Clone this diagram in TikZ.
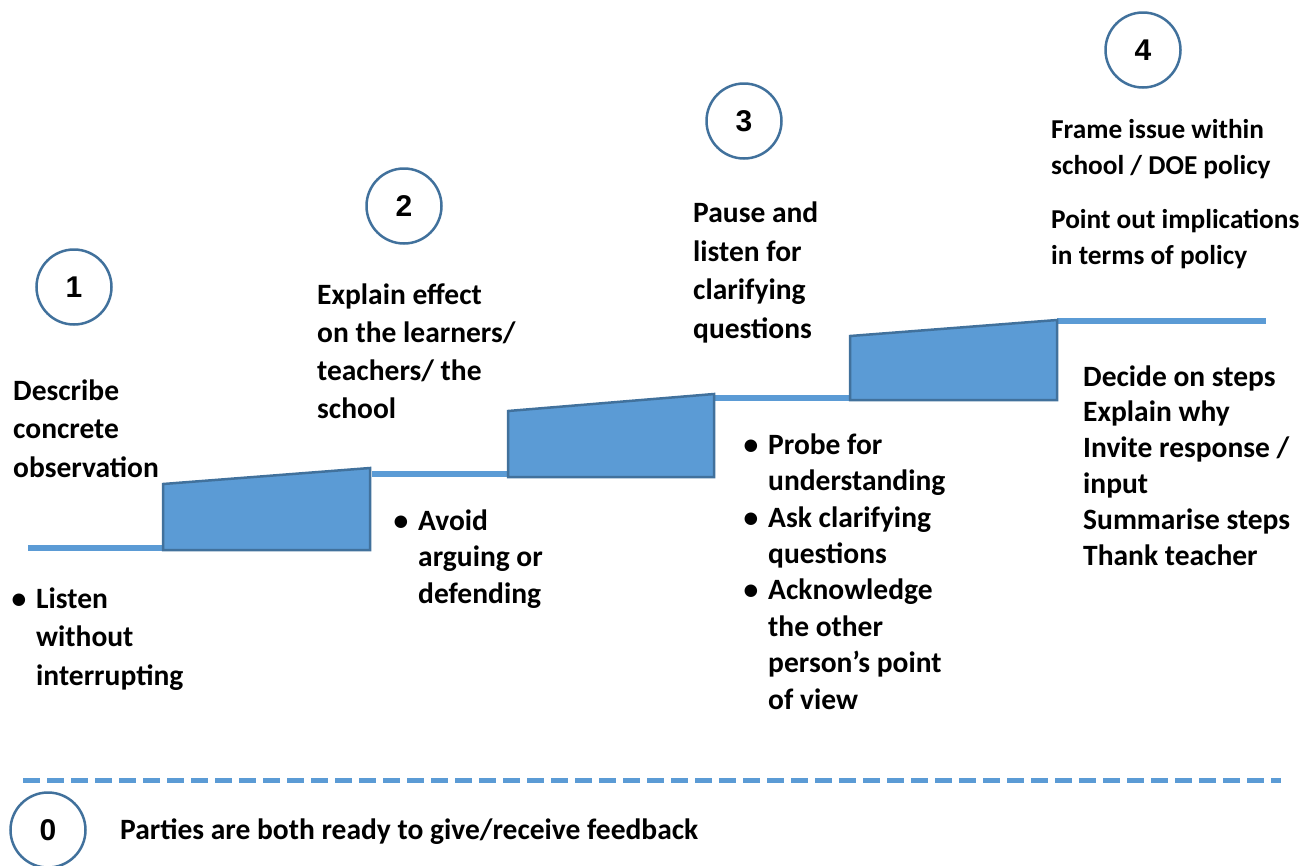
\documentclass[tikz,border=0pt]{standalone}
\usepackage{fontspec}
\setmainfont{Carlito}
\newfontfamily\numfont{Liberation Sans}

\definecolor{stepblue}{HTML}{5B9BD5}
\definecolor{stepedge}{HTML}{41719C}

\tikzset{
  level/.style={line width=6pt, stepblue},
  riser/.style={fill=stepblue, draw=stepedge, line width=2.5pt, line join=miter},
  stagenum/.style={circle, draw=stepedge, line width=2.5pt, minimum size=75pt, inner sep=0pt, font=\numfont\bfseries\fontsize{30}{34}\selectfont},
  % base anchor sits on the last line of the text
  lbl/.style={anchor=base west, align=left, inner sep=0pt, font=\bfseries\fontsize{29.5}{38.5}\selectfont},
  lbltight/.style={lbl, font=\bfseries\fontsize{29.5}{35.8}\selectfont},
  lblsmall/.style={lbl, font=\bfseries\fontsize{27.3}{35.8}\selectfont}
}
\newcommand{\bul}{\llap{\textbullet\hskip 10pt}}

\begin{document}
\begin{tikzpicture}[x=1pt, y=-1pt]
    \useasboundingbox (0,0) rectangle (1309,865);

    % levels, then the risers on top of them
    \draw[level] (28,548) -- (273,548);
    \draw[level] (372,474) -- (617,474);
    \draw[level] (714,398) -- (960,398);
    \draw[level] (1057,321) -- (1266,321);
    \draw[riser] (163,550) -- (163,484) -- (370,468) -- (370,550) -- cycle;
    \draw[riser] (508,477) -- (508,411) -- (714,394) -- (714,477) -- cycle;
    \draw[riser] (850,400) -- (850,336) -- (1057,320) -- (1057,400) -- cycle;

    % stage numbers
    \node[stagenum] (n1) at (74,287) {1};
    \node[stagenum] (n2) at (404,206) {2};
    \node[stagenum] (n3) at (744,121) {3};
    \node[stagenum] (n4) at (1143,50) {4};
    \node[stagenum] (n0) at (48,830) {0};

    % what to do at each stage
    \node[lbl] (s1) at (13,477) {Describe\\concrete\\observation};
    \node[lbl] (s1b) at (36,685) {\bul Listen\\without\\interrupting};
    \node[lbl, font=\bfseries\fontsize{29.5}{38}\selectfont] (s2) at (317,418) {Explain effect\\on the learners/\\teachers/ the\\school};
    \node[lbl, font=\bfseries\fontsize{29.5}{36.5}\selectfont] (s2b) at (418,603) {\bul Avoid\\arguing or\\defending};
    \node[lbl] (s3) at (693,338) {Pause and\\listen for\\clarifying\\questions};
    \node[lbl, font=\bfseries\fontsize{29.5}{36.4}\selectfont] (s3b) at (768,709)
        {\bul Probe for\\understanding\\\bul Ask clarifying\\questions\\\bul Acknowledge\\the other\\person’s point\\of view};
    \node[lblsmall] (s4a) at (1051,174) {Frame issue within\\school / DOE policy};
    \node[lblsmall] (s4b) at (1051,264) {Point out implications\\in terms of policy};
    \node[lbltight] (s4c) at (1083,565)
        {Decide on steps\\Explain why\\Invite response /\\input\\Summarise steps\\Thank teacher};

    % starting point below the line
    \draw[line width=5pt, stepblue, dash pattern=on 17pt off 7pt] (23,780) -- (1281,780);
    \node[lbl] (s0) at (120,839) {Parties are both ready to give/receive feedback};
\end{tikzpicture}
\end{document}
